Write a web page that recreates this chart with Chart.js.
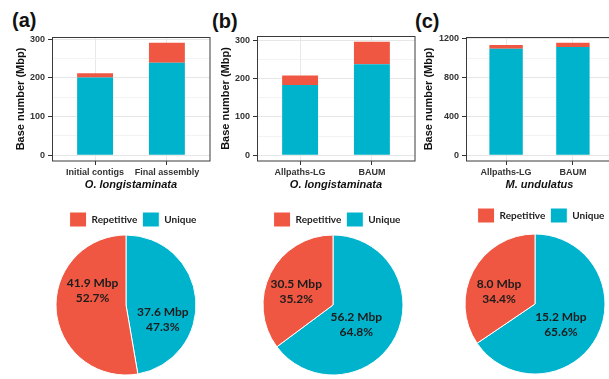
<!DOCTYPE html>
<html>
<head>
<meta charset="utf-8">
<script src="https://cdn.jsdelivr.net/npm/chart.js@4.4.0/dist/chart.umd.min.js"></script>
<style>
  html, body { margin: 0; padding: 0; background: #fff; }
  body { width: 609px; height: 379px; position: relative; overflow: hidden; }
  canvas { position: absolute; }
  .tag { position: absolute; font: bold 20px "Liberation Sans", Arial, sans-serif; line-height: 20px; color: #111; }
</style>
</head>
<body>
<div class="tag" style="left:12px;top:10px">(a)</div>
<div class="tag" style="left:212px;top:11px">(b)</div>
<div class="tag" style="left:415px;top:11px">(c)</div>

<canvas id="barA" style="left:0px;top:0px" width="212" height="195"></canvas>
<canvas id="barB" style="left:205px;top:0px" width="212" height="195"></canvas>
<canvas id="barC" style="left:408px;top:0px" width="205" height="195"></canvas>

<canvas id="pieA" style="left:36px;top:207px" width="180" height="172"></canvas>
<canvas id="pieB" style="left:243px;top:207px" width="180" height="172"></canvas>
<canvas id="pieC" style="left:445px;top:203px" width="180" height="176"></canvas>

<script>
// Stacked bars, base number (Mbp)
const catsA = ['Initial contigs', 'Final assembly'];
const uniqueA = [201, 239];
const repeatA = [11, 52];

const catsB = ['Allpaths-LG', 'BAUM'];
const uniqueB = [183, 237];
const repeatB = [25, 59];

const catsC = ['Allpaths-LG', 'BAUM'];
const uniqueC = [1097, 1117];
const repeatC = [39, 44];

// Pies: Mbp and printed share, order Unique, Repetitive
const pieLabels = ['Unique', 'Repetitive'];
const pieA = [37.6, 41.9];
const pctA = [47.3, 52.7];
const pieB = [56.2, 30.5];
const pctB = [64.8, 35.2];
const pieC = [15.2, 8.0];
const pctC = [65.6, 34.4];

const RED = '#EF5742';
const BLUE = '#00B3CD';

Chart.defaults.font.family = '"Liberation Sans", Arial, sans-serif';

// border round the plot panel (ggplot style)
const framePlugin = {
  id: 'frame',
  afterDraw(chart) {
    const a = chart.chartArea, ctx = chart.ctx;
    ctx.save();
    ctx.strokeStyle = '#3a3a3a';
    ctx.lineWidth = 1;
    const l = Math.round(a.left) + 0.5, t = Math.round(a.top) + 0.5;
    ctx.strokeRect(l, t, Math.round(a.right) - l, Math.round(a.bottom) - t);
    ctx.restore();
  }
};

function barChart(id, cats, unique, repeat, title, opt) {
  const totals = unique.map((u, i) => u + repeat[i]);
  const top = Math.max(...totals);
  const pad = top * 0.05;
  new Chart(document.getElementById(id), {
    type: 'bar',
    data: {
      datasets: [
        { label: 'Unique', data: unique.map((v, i) => ({ x: i, y: v })), backgroundColor: BLUE },
        { label: 'Repetitive', data: repeat.map((v, i) => ({ x: i, y: v })), backgroundColor: RED }
      ]
    },
    options: {
      responsive: false,
      animation: false,
      layout: { padding: { top: opt.top, right: opt.right, left: 0, bottom: 0 } },
      datasets: { bar: { barPercentage: 0.5, categoryPercentage: 1, borderWidth: 0 } },
      plugins: { legend: { display: false }, tooltip: { enabled: false } },
      scales: {
        x: {
          type: 'linear',
          stacked: true,
          offset: false,
          min: -0.6,
          max: cats.length - 0.4,
          afterBuildTicks: s => { s.ticks = cats.map((c, i) => ({ value: i })); },
          afterFit: s => { s.height = 34; },
          ticks: {
            callback: v => cats[v],
            autoSkip: false, maxRotation: 0, padding: 2,
            font: { size: 9, weight: 'bold' }, color: '#333'
          },
          grid: { offset: false, color: '#e8e8e8', tickColor: '#333', tickLength: 4 },
          border: { display: false },
          title: {
            display: true, text: title, color: '#111',
            font: { size: 11, weight: 'bold', style: 'italic' },
            padding: { top: 0, bottom: 3 }
          }
        },
        y: {
          stacked: true,
          min: -pad,
          max: top + pad,
          afterBuildTicks: s => {
            const t = [];
            for (let v = 0; v <= top + pad; v += opt.minor) t.push({ value: v });
            s.ticks = t;
          },
          afterFit: s => { s.width = opt.yw; },
          ticks: {
            callback: v => (v % opt.major === 0 ? v : ''),
            padding: 3, font: { size: 9, weight: 'bold' }, color: '#333'
          },
          grid: {
            color: c => (c.tick && c.tick.value % opt.major === 0 ? '#e6e6e6' : '#f3f3f3'),
            tickColor: c => (c.tick && c.tick.value % opt.major === 0 ? '#333' : 'rgba(0,0,0,0)'),
            tickLength: 4
          },
          border: { display: false },
          title: {
            display: true, text: 'Base number (Mbp)', color: '#111',
            font: { size: 11, weight: 'bold' },
            padding: { top: opt.yt, bottom: 0 }
          }
        }
      }
    },
    plugins: [framePlugin]
  });
}

// two-line value labels inside the slices
const sliceText = {
  id: 'sliceText',
  afterDatasetsDraw(chart, args, o) {
    const ctx = chart.ctx;
    const meta = chart.getDatasetMeta(0);
    const data = chart.data.datasets[0].data;
    ctx.save();
    ctx.font = 'bold 12px Lato, "Open Sans", sans-serif';
    ctx.fillStyle = '#1c1c1c';
    ctx.textAlign = 'center';
    ctx.textBaseline = 'middle';
    meta.data.forEach((arc, i) => {
      const p = arc.getProps(['x', 'y', 'startAngle', 'endAngle', 'outerRadius']);
      const mid = (p.startAngle + p.endAngle) / 2;
      const r = p.outerRadius * 0.5;
      const x = p.x + Math.cos(mid) * r + o.shift[i][0];
      const y = p.y + Math.sin(mid) * r + o.shift[i][1];
      ctx.fillText(data[i].toFixed(1) + ' Mbp', x, y - 7.5);
      ctx.fillText(o.pcts[i].toFixed(1) + '%', x, y + 7.5);
    });
    ctx.restore();
  }
};

// nudge legend sideways, it is not centred over the pie
const legendShift = {
  id: 'legendShift',
  afterLayout(chart, args, o) {
    chart.legend.left += o.dx;
    chart.legend.right += o.dx;
  }
};

function pieChart(id, values, pcts, opt) {
  new Chart(document.getElementById(id), {
    type: 'pie',
    data: {
      labels: pieLabels,
      datasets: [{
        data: values,
        backgroundColor: [BLUE, RED],
        borderColor: '#fff',
        borderWidth: 1,
        radius: 70
      }]
    },
    options: {
      responsive: false,
      animation: false,
      layout: { padding: { top: 0, bottom: opt.bottom, left: 0, right: 0 } },
      plugins: {
        tooltip: { enabled: false },
        legend: {
          position: 'top',
          labels: {
            boxWidth: 17, boxHeight: 15, padding: 5,
            font: { family: 'Lato, "Open Sans", sans-serif', size: 10, weight: 'bold' },
            color: '#222',
            sort: (a, b) => b.index - a.index
          }
        },
        sliceText: { pcts: pcts, shift: opt.shift },
        legendShift: { dx: opt.dx }
      }
    },
    plugins: [sliceText, legendShift]
  });
}

barChart('barA', catsA, uniqueA, repeatA, 'O. longistaminata', { top: 37, right: 2, yw: 52, yt: 14, minor: 50, major: 100 });
barChart('barB', catsB, uniqueB, repeatB, 'O. longistaminata', { top: 36, right: 2, yw: 52, yt: 14, minor: 50, major: 100 });
barChart('barC', catsC, uniqueC, repeatC, 'M. undulatus', { top: 37, right: 0, yw: 58, yt: 14, minor: 200, major: 400 });

pieChart('pieA', pieA, pctA, { bottom: 6, dx: 7, shift: [[2, 18], [1.5, -17]] });
pieChart('pieB', pieB, pctB, { bottom: 6, dx: 4, shift: [[-8, 4], [-5.5, 2]] });
pieChart('pieC', pieC, pctC, { bottom: 4, dx: 6, shift: [[-5, 4.5], [-5, 4]] });
</script>
</body>
</html>
